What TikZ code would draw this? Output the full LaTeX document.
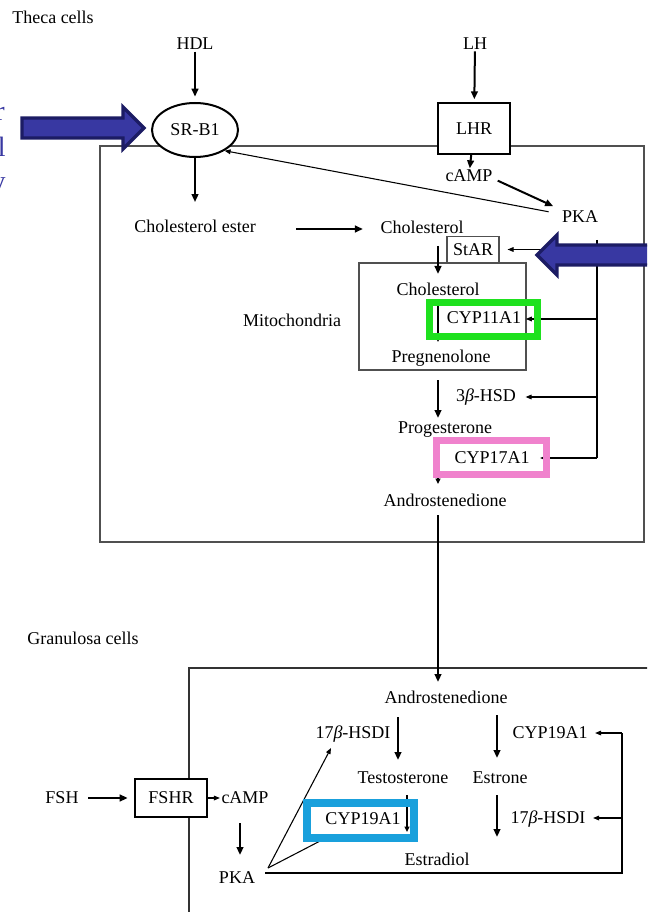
\documentclass[tikz,border=0pt]{standalone}
\usepackage{fontspec}
\setmainfont{Liberation Serif}
\usetikzlibrary{arrows.meta,shapes.geometric,calc}
\definecolor{navy}{RGB}{56,56,162}
\definecolor{navyedge}{RGB}{28,28,100}
\definecolor{hlgreen}{RGB}{30,225,30}
\definecolor{hlpink}{RGB}{240,130,205}
\definecolor{hlblue}{RGB}{25,160,220}
\definecolor{boxgray}{RGB}{80,80,80}
\tikzset{
  lbl/.style={font=\fontsize{13.5}{16}\selectfont, inner sep=1pt},
  arr/.style={line width=1.5pt, -{Triangle[length=6pt,width=5pt]}},
  tarr/.style={line width=0.8pt, -{Triangle[length=4.5pt,width=3.5pt]}},
  sarr/.style={line width=1.2pt, -{Triangle[length=4pt,width=3.5pt]}},
  tline/.style={line width=0.8pt},
  hlbox/.style={line width=5.25pt},
  bigarrow/.style={fill=navy, draw=navyedge, line width=2.4pt, line join=miter},
  frag/.style={anchor=base east, inner sep=0pt, text=navy, font=\fontsize{21}{25}\selectfont}
}
\begin{document}
\begin{tikzpicture}[x=0.75pt, y=-0.75pt]
\useasboundingbox (0,0) rectangle (647,912);
\clip (0,0) rectangle (647,912);
\fill[white] (0,0) rectangle (647,912);

% cell boundaries
\draw[boxgray, line width=1.2pt] (100,146) rectangle (644,542);
\draw[black!80, line width=1.2pt] (189,1000) -- (189,668) -- (700,668);

% ---------- Theca cells ----------
\node[lbl] (theca) at (53,17) {Theca cells};
\node[lbl] (hdl) at (195,44) {HDL};
\node[lbl, ellipse, draw, fill=white, line width=1.5pt, minimum width=64.5pt, minimum height=40.5pt, inner sep=0pt] (srb1) at (195,130) {SR-B1};
\node[lbl] (chester) at (195,226) {Cholesterol ester};
\node[lbl] (chol) at (422,227) {Cholesterol};
\node[lbl] (lh) at (475,44) {LH};
\node[lbl, draw, fill=white, line width=1.8pt, minimum width=54pt, minimum height=38pt] (lhr) at (474,128.5) {LHR};
\node[lbl] (camp) at (469,176) {cAMP};
\node[lbl] (pka) at (580,217) {PKA};
\node[lbl, draw=boxgray, line width=0.8pt, minimum width=39pt, minimum height=20pt] (star) at (473,249.5) {StAR};
\node[draw=boxgray, line width=0.8pt, minimum width=125.25pt, minimum height=80.25pt] (mito) at (442.5,316.5) {};
\node[lbl] (mitolbl) at (292,320) {Mitochondria};
\node[lbl] (chol2) at (438,289) {Cholesterol};
\node[lbl] (cyp11) at (484,318) {CYP11A1};
\node[lbl] (preg) at (441,358) {Pregnenolone};
\node[lbl] (hsd3) at (486,397) {3{\itshape β}-HSD};
\node[lbl] (prog) at (445,430) {Progesterone};
\node[lbl] (cyp17) at (492,458) {CYP17A1};
\node[lbl] (andro1) at (445,500) {Androstenedione};

\draw[arr, shorten >=4pt] (hdl) -- (srb1);
\draw[arr, shorten >=12pt] (srb1) -- (chester);
\draw[arr, shorten <=29pt, shorten >=12pt] ($(chester.east)+(0,3)$) -- ($(chol.west)+(0,2)$);
\draw[arr, shorten >=2pt] (lh) -- (lhr);
\draw[arr] (lhr) -- (camp);
\draw[arr, shorten <=3pt, shorten >=6pt] ($(camp.east)+(0,3)$) -- (pka.north west);
\draw[tarr, shorten <=9pt] ($(pka.west)+(0,-3)$) -- (srb1.-35);

\coordinate (cholv) at (438,246);
\draw[arr] (cholv) -- (cholv |- {(0,274)});
\draw[sarr] (438,306) -- (438,342);
\draw[arr] (438,380) -- (438,418);
\draw[sarr] (438,444) -- (438,484);

% PKA regulation line
\coordinate (pkav) at (597,240);
\draw[tline] (pkav) -- (pkav |- cyp17);
\draw[tarr] (pkav |- star) -- ($(star.east)+(8,0)$);
\draw[tarr] ($(pkav |- cyp11)+(0,1)$) -- ($(cyp11.east)+(3,1)$);
\draw[tarr] (pkav |- hsd3) -- ($(hsd3.east)+(8,0)$);
\draw[tarr] (pkav |- cyp17) -- ($(cyp17.east)+(9,0)$);

% highlight frames
\draw[hlgreen, hlbox] (429.5,302.5) rectangle (537.5,336.5);
\draw[hlpink, hlbox] (436.5,440.5) rectangle (546.5,474.5);

% theca -> granulosa
\draw[arr] (438,515) -- (438,682);

% ---------- Granulosa cells ----------
\node[lbl] (gran) at (83,638) {Granulosa cells};
\node[lbl] (andro2) at (446,697) {Androstenedione};
\node[lbl] (hsd17a) at (353,734) {17{\itshape β}-HSDI};
\node[lbl] (cyp19b) at (550,733) {CYP19A1};
\node[lbl] (testo) at (403,778) {Testosterone};
\node[lbl] (estrone) at (500,778) {Estrone};
\node[lbl] (hsd17b) at (548,819) {17{\itshape β}-HSDI};
\node[lbl] (cyp19a) at (363,819) {CYP19A1};
\node[lbl] (estradiol) at (437,859) {Estradiol};
\node[lbl] (fsh) at (62,798) {FSH};
\node[lbl, draw, fill=white, line width=0.9pt, minimum width=54pt, minimum height=28.5pt] (fshr) at (171,798) {FSHR};
\node[lbl] (camp2) at (245,798) {cAMP};
\node[lbl] (pka2) at (237,878) {PKA};

\draw[arr] (398,717) -- (398,760);
\draw[arr] (497,715) -- (497,758);
\draw[arr] (497,795) -- (497,837);
\draw[sarr] (407,795) -- (407,832);
\draw[arr, shorten <=6pt, shorten >=5pt] (fsh) -- (fshr);
\draw[tarr] (fshr) -- (camp2);
\draw[arr] (240,823) -- (240,855);

\coordinate (pkaj) at (268,868);
\draw[tarr] (pkaj) -- (331,748);
\draw[tline] (pkaj) -- (322,840);
\draw[tline] (265,873) -- (622,873) -- (622,733);
\draw[tarr] (622,733) -- ($(cyp19b.east)+(6,0)$);
\draw[tarr] (622,818) -- ($(hsd17b.east)+(6,-1)$);

\draw[hlblue, line width=6pt] (307,803) rectangle (414,838);

% ---------- overlay blue arrows ----------
\draw[bigarrow] (22,118) -- (123,118) -- (123,107) -- (144,128) -- (123,149) -- (123,138) -- (22,138) -- cycle;
\draw[bigarrow] (660,245) -- (557,245) -- (557,235) -- (537,255) -- (557,275) -- (557,265) -- (660,265) -- cycle;

% clipped fragments of blue text at the left edge
\node[frag] (frag1) at (5,121) {r};
\node[frag] (frag2) at (6,157) {l};
\node[frag] (frag3) at (6,191) {y};
\end{tikzpicture}
\end{document}
